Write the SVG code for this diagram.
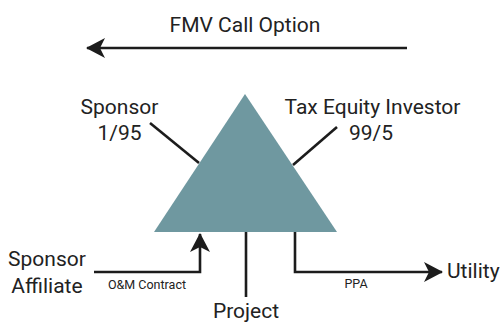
<svg xmlns="http://www.w3.org/2000/svg" width="502" height="322" viewBox="0 0 502 322">
<style>
.t{font-family:Roboto,"Liberation Sans",sans-serif;fill:#222;}
.big{font-size:21px;}
.sm{font-size:12.5px;}
.ln{stroke:#1c1c1c;stroke-width:2.6;fill:none;}
</style>
<defs>
<marker id="ah" markerUnits="userSpaceOnUse" markerWidth="19" markerHeight="20" refX="18" refY="10" orient="auto" viewBox="0 0 19 20">
<path d="M0,0 L19,10 L0,20 L5,10 z" fill="#1c1c1c"/>
</marker>
</defs>
<rect width="502" height="322" fill="#ffffff"/>
<g id="connectors">
<line class="ln" x1="407" y1="48" x2="87" y2="48" marker-end="url(#ah)"/>
<line class="ln" x1="150" y1="123" x2="199" y2="163"/>
<line class="ln" x1="337" y1="127" x2="293" y2="165"/>
<polyline class="ln" points="94,272 200,272 200,234" marker-end="url(#ah)"/>
<line class="ln" x1="246" y1="232" x2="246" y2="297"/>
<polyline class="ln" points="295,232 295,272 442,272" marker-end="url(#ah)"/>
</g>
<g id="project">
<polygon points="245,94 154,232 337,232" fill="#6f98a0"/>
<text class="t big" x="246" y="317.5" text-anchor="middle">Project</text>
</g>
<g id="fmv-label"><text class="t big" x="245" y="31.5" text-anchor="middle">FMV Call Option</text></g>
<g id="sponsor">
<text class="t big" x="119.5" y="114" text-anchor="middle">Sponsor</text>
<text class="t big" x="119.5" y="140" text-anchor="middle">1/95</text>
</g>
<g id="tax-equity-investor">
<text class="t big" x="372.5" y="114" text-anchor="middle">Tax Equity Investor</text>
<text class="t big" x="371" y="140" text-anchor="middle">99/5</text>
</g>
<g id="sponsor-affiliate">
<text class="t big" x="47" y="266" text-anchor="middle">Sponsor</text>
<text class="t big" x="47" y="292.5" text-anchor="middle">Affiliate</text>
</g>
<g id="utility"><text class="t big" x="447" y="278">Utility</text></g>
<g id="edge-labels">
<text class="t sm" x="147" y="289" text-anchor="middle">O&amp;M Contract</text>
<text class="t sm" x="356" y="288" text-anchor="middle">PPA</text>
</g>
</svg>
